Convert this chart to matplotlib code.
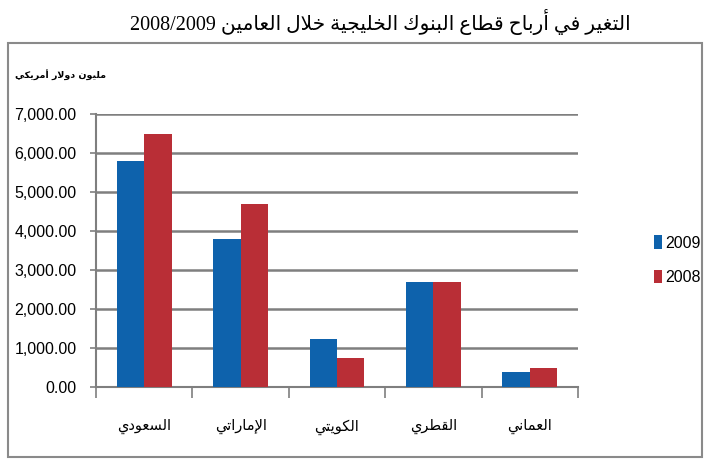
import re
import numpy as np
import matplotlib
matplotlib.use('Agg')
import matplotlib.pyplot as plt
from matplotlib.patches import Rectangle

# data
title = 'التغير في أرباح قطاع البنوك الخليجية خلال العامين 2008/2009'
unit_label = 'مليون دولار أمريكي'
countries = ['السعودي', 'الإماراتي', 'الكويتي', 'القطري', 'العماني']
profits_2009 = [5800, 3800, 1220, 2690, 390]
profits_2008 = [6500, 4680, 740, 2690, 490]
series_names = ['2009', '2008']
y_ticks = [0, 1000, 2000, 3000, 4000, 5000, 6000, 7000]

# small arabic shaper (matplotlib does no shaping / bidi by itself)
# letter -> first presentation form code, number of forms (2 = right joining only)
forms = {
    'ء': (0xFE80, 1), 'آ': (0xFE81, 2), 'أ': (0xFE83, 2), 'ؤ': (0xFE85, 2),
    'إ': (0xFE87, 2), 'ئ': (0xFE89, 4), 'ا': (0xFE8D, 2), 'ب': (0xFE8F, 4),
    'ة': (0xFE93, 2), 'ت': (0xFE95, 4), 'ث': (0xFE99, 4), 'ج': (0xFE9D, 4),
    'ح': (0xFEA1, 4), 'خ': (0xFEA5, 4), 'د': (0xFEA9, 2), 'ذ': (0xFEAB, 2),
    'ر': (0xFEAD, 2), 'ز': (0xFEAF, 2), 'س': (0xFEB1, 4), 'ش': (0xFEB5, 4),
    'ص': (0xFEB9, 4), 'ض': (0xFEBD, 4), 'ط': (0xFEC1, 4), 'ظ': (0xFEC5, 4),
    'ع': (0xFEC9, 4), 'غ': (0xFECD, 4), 'ف': (0xFED1, 4), 'ق': (0xFED5, 4),
    'ك': (0xFED9, 4), 'ل': (0xFEDD, 4), 'م': (0xFEE1, 4), 'ن': (0xFEE5, 4),
    'ه': (0xFEE9, 4), 'و': (0xFEED, 2), 'ى': (0xFEEF, 2), 'ي': (0xFEF1, 4),
}
lam_alef = {'آ': 0xFEF5, 'أ': 0xFEF7, 'إ': 0xFEF9, 'ا': 0xFEFB}


def shape(text):
    # merge lam + alef first
    chars = []
    i = 0
    while i < len(text):
        if text[i] == 'ل' and i + 1 < len(text) and text[i + 1] in lam_alef:
            chars.append(('LA', text[i + 1]))
            i += 2
        else:
            chars.append((text[i], None))
            i += 1

    def joins_next(c):
        if c[0] == 'LA':
            return False
        return c[0] in forms and forms[c[0]][1] == 4

    def is_letter(c):
        return c[0] == 'LA' or c[0] in forms

    out = ''
    for k, c in enumerate(chars):
        prev_join = k > 0 and joins_next(chars[k - 1])
        if c[0] == 'LA':
            out += chr(lam_alef[c[1]] + (1 if prev_join else 0))
            continue
        if c[0] not in forms:
            out += c[0]
            continue
        base, n = forms[c[0]]
        next_join = n == 4 and k + 1 < len(chars) and is_letter(chars[k + 1])
        if n == 1:
            out += chr(base)
        elif n == 2:
            out += chr(base + (1 if prev_join else 0))
        else:
            if prev_join and next_join:
                out += chr(base + 3)
            elif prev_join:
                out += chr(base + 1)
            elif next_join:
                out += chr(base + 2)
            else:
                out += chr(base)
    return out


def ar(text):
    s = shape(text)[::-1]
    return re.sub(r'[0-9/.,]+', lambda m: m.group()[::-1], s)


blue = '#0E62AC'
red = '#B92E36'
grid_color = '#7F7F7F'

fig = plt.figure(figsize=(7.06, 4.71), dpi=100)
ax = fig.add_axes([96 / 706, 1 - 387 / 471, (578 - 96) / 706, (387 - 114) / 471])

x = np.arange(len(countries))
w = 0.285
b1 = ax.bar(x - w / 2, profits_2009, w, color=blue, zorder=3)
b2 = ax.bar(x + w / 2, profits_2008, w, color=red, zorder=3)

ax.set_xlim(-0.5, len(countries) - 0.5)
ax.set_ylim(0, 7000)
ax.set_yticks(y_ticks)
ax.set_yticklabels(['{:,.2f}'.format(v) for v in y_ticks],
                   family='Liberation Sans', fontsize=11.5)
ax.yaxis.grid(True, color=grid_color, linewidth=1.8, zorder=0)
ax.tick_params(axis='y', length=4, width=1.2, color=grid_color, pad=10)

ax.set_xticks(np.arange(len(countries) + 1) - 0.5, minor=True)
ax.set_xticks(x)
ax.set_xticklabels([ar(c) for c in countries], family='DejaVu Sans', fontsize=10.5)
ax.tick_params(axis='x', which='major', length=0, pad=23)
ax.tick_params(axis='x', which='minor', length=8, width=1.2, color=grid_color)

for side in ['top', 'right']:
    ax.spines[side].set_visible(False)
for side in ['left', 'bottom']:
    ax.spines[side].set_color(grid_color)
    ax.spines[side].set_linewidth(1.5)

# chart frame
fig.patches.append(Rectangle((8 / 706, 1 - 457 / 471), 694 / 706, 414 / 471,
                             transform=fig.transFigure, fill=False,
                             edgecolor='#8A8A8A', linewidth=1.5))

fig.text(380 / 706, 1 - 22 / 471, ar(title), ha='center', va='center',
         family=['Liberation Serif', 'DejaVu Sans'], fontsize=14.5)
fig.text(61 / 706, 1 - 75 / 471, ar(unit_label), ha='center', va='center',
         family='DejaVu Sans', fontsize=6.8, weight='bold')

fig.legend([b1, b2], series_names, loc='upper left',
           bbox_to_anchor=(640 / 706, 1 - 221 / 471), frameon=False,
           prop={'family': 'Liberation Sans', 'size': 11.5},
           handlelength=0.5, handleheight=0.9, handletextpad=0.2,
           labelspacing=1.2)

fig.savefig('out.png', dpi=100)
